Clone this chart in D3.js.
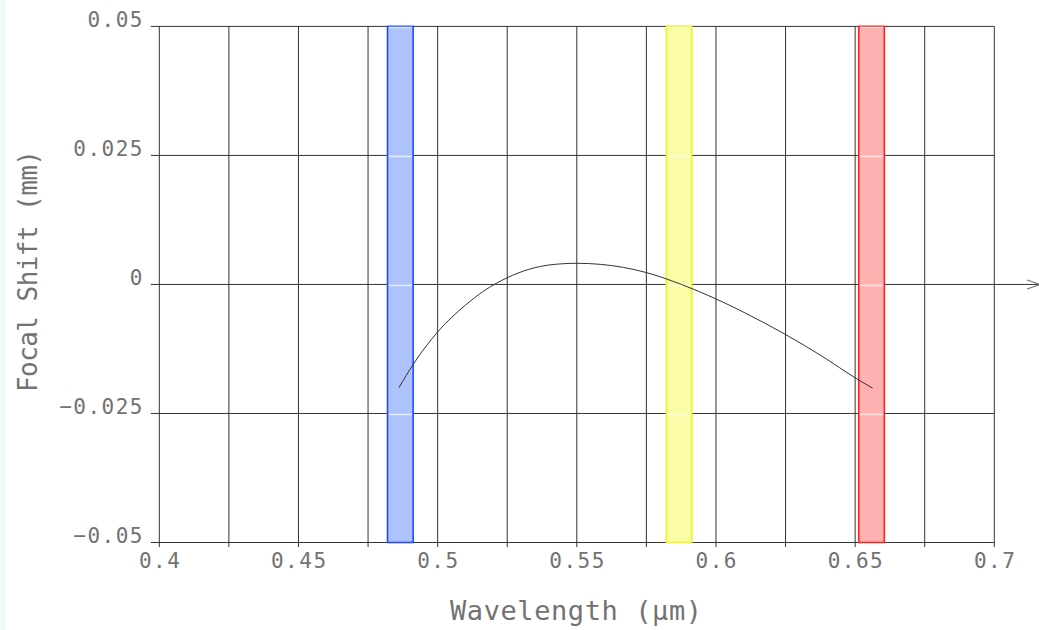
<!DOCTYPE html>
<html>
<head>
<meta charset="utf-8">
<script src="https://cdn.jsdelivr.net/npm/d3@7"></script>
<style>
  body { margin: 0; background: #fff; }
  svg { display: block; }
  text { font-family: "DejaVu Sans Mono", monospace; fill: #727272; }
</style>
</head>
<body>
<svg width="1039" height="630"></svg>
<script>
// focal shift curve
var wavelengths = [0.4861, 0.4912, 0.500, 0.510, 0.5165, 0.525, 0.5405, 0.550, 0.5584, 0.575, 0.5876, 0.600, 0.610, 0.625, 0.6387, 0.650, 0.6563];
var focalShift  = [-0.0200, -0.0155, -0.0092, -0.0040, -0.0013, 0.0013, 0.0038, 0.0041, 0.0039, 0.0023, 0.0000, -0.0028, -0.0054, -0.0097, -0.0141, -0.0181, -0.0201];

// F, d, C bands
var bandLo = [0.4820, 0.5822, 0.6513];
var bandHi = [0.4912, 0.5913, 0.6605];

var xTicks = [0.4, 0.45, 0.5, 0.55, 0.6, 0.65, 0.7];
var xTickLabels = ["0.4", "0.45", "0.5", "0.55", "0.6", "0.65", "0.7"];
var xGrid = [0.4, 0.425, 0.45, 0.475, 0.5, 0.525, 0.55, 0.575, 0.6, 0.625, 0.65, 0.675, 0.7];
var yTicks = [-0.05, -0.025, 0, 0.025, 0.05];
var yTickLabels = ["\u22120.05", "\u22120.025", "0", "0.025", "0.05"];

var bandFill = ["#aec2fc", "#fafca8", "#ffb0b0"],
    bandStroke = ["#1e4cff", "#f2f21a", "#ff2222"];

var svg = d3.select("svg"),
    plotLeft = 159.3, plotRight = 994.3, plotTop = 26.4, plotBottom = 542.5;

svg.append("rect").attr("x", 0).attr("y", 0).attr("width", 6).attr("height", 630).attr("fill", "#f2f8f9");

var x = d3.scaleLinear().domain([0.4, 0.7]).range([plotLeft, plotRight]);
var y = d3.scaleLinear().domain([-0.05, 0.05]).range([plotBottom, plotTop]);

// grid
svg.append("g").selectAll("line").data(xGrid).enter().append("line")
    .attr("x1", function(d) { return x(d); })
    .attr("x2", function(d) { return x(d); })
    .attr("y1", plotTop)
    .attr("y2", plotBottom + 4.5)
    .attr("stroke", "#333")
    .attr("stroke-width", 1);

svg.append("g").selectAll("line").data(yTicks).enter().append("line")
    .attr("x1", plotLeft - 8.5)
    .attr("x2", function(d) { return d === 0 ? 1039 : plotRight; })
    .attr("y1", function(d) { return y(d); })
    .attr("y2", function(d) { return y(d); })
    .attr("stroke", "#333")
    .attr("stroke-width", 1);

// arrow at end of zero line
svg.append("path")
    .attr("d", "M1027," + (y(0) - 4.5) + "L1040," + y(0) + "L1027," + (y(0) + 4.5))
    .attr("fill", "none")
    .attr("stroke", "#777")
    .attr("stroke-width", 1.2);

// bands
var bands = svg.append("g").selectAll("g").data(bandLo).enter().append("g");

bands.append("rect")
    .attr("x", function(d) { return x(d); })
    .attr("y", plotTop)
    .attr("width", function(d, i) { return x(bandHi[i]) - x(d); })
    .attr("height", plotBottom - plotTop)
    .attr("fill", function(d, i) { return bandFill[i]; })
    .attr("stroke", function(d, i) { return bandStroke[i]; })
    .attr("stroke-width", 1.6);

bands.selectAll("line").data(function(d, i) { return yTicks.slice(1).map(function(t) { return [d, bandHi[i], t]; }); })
  .enter().append("line")
    .attr("x1", function(d) { return x(d[0]) + 1.2; })
    .attr("x2", function(d) { return x(d[1]) - 1.2; })
    .attr("y1", function(d) { return y(d[2]) + 1; })
    .attr("y2", function(d) { return y(d[2]) + 1; })
    .attr("stroke", "rgba(255,255,255,0.7)")
    .attr("stroke-width", 1.5);

// curve
var line = d3.line()
    .x(function(d, i) { return x(d); })
    .y(function(d, i) { return y(focalShift[i]); })
    .curve(d3.curveMonotoneX);

svg.append("path")
    .datum(wavelengths)
    .attr("d", line)
    .attr("fill", "none")
    .attr("stroke", "#333")
    .attr("stroke-width", 1);

// tick labels
svg.append("g").selectAll("text").data(xTicks).enter().append("text")
    .attr("x", function(d) { return x(d) + 0.8; })
    .attr("y", 568)
    .attr("text-anchor", "middle")
    .style("font-size", "21px")
    .style("letter-spacing", "1.5px")
    .text(function(d, i) { return xTickLabels[i]; });

svg.append("g").selectAll("text").data(yTicks).enter().append("text")
    .attr("x", 144)
    .attr("y", function(d) { return y(d) + 0.5; })
    .attr("text-anchor", "end")
    .style("font-size", "21px")
    .style("letter-spacing", "1.5px")
    .text(function(d, i) { return yTickLabels[i]; });

// axis titles
svg.append("text")
    .attr("x", 576)
    .attr("y", 620)
    .attr("text-anchor", "middle")
    .style("font-size", "27px")
    .attr("textLength", 252)
    .attr("lengthAdjust", "spacing")
    .text("Wavelength (\u00b5m)");

svg.append("text")
    .attr("transform", "translate(37,271) rotate(-90)")
    .attr("text-anchor", "middle")
    .style("font-size", "26px")
    .attr("textLength", 242)
    .attr("lengthAdjust", "spacing")
    .text("Focal Shift (mm)");
</script>
</body>
</html>
